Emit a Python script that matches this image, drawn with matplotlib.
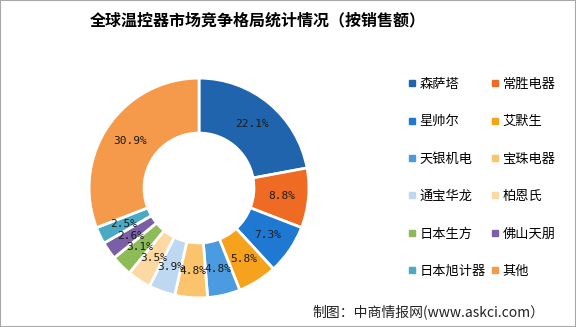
import matplotlib.pyplot as plt
from matplotlib.lines import Line2D
from matplotlib.patches import Rectangle

plt.rcParams['font.family'] = ['Noto Sans CJK SC', 'DejaVu Sans']

# market share by sales, clockwise from 12 o'clock
companies = ['森萨塔', '常胜电器', '星帅尔', '艾默生', '天银机电', '宝珠电器',
             '通宝华龙', '柏恩氏', '日本生方', '佛山天朋', '日本旭计器', '其他']
shares = [22.1, 8.8, 7.3, 5.8, 4.8, 4.8, 3.9, 3.5, 3.1, 2.6, 2.5, 30.9]
colors = ['#1f64ad', '#ef6a22', '#1f78d1', '#f7a21c', '#4b9be0', '#fbc46c',
          '#bfd8f1', '#fcd9a3', '#8cbb58', '#7a5fa6', '#4aaac4', '#f5994a']

fig = plt.figure(figsize=(5.76, 3.27), dpi=100)
fig.patch.set_facecolor('white')

# donut
ax = fig.add_axes([88/576, 28/327, 222/576, 222/327])
wedges, texts, autotexts = ax.pie(
    shares, colors=colors, startangle=90, counterclock=False,
    autopct='%.1f%%', pctdistance=0.76,
    wedgeprops=dict(width=0.5, edgecolor='white', linewidth=2),
    textprops=dict(fontsize=8, family='DejaVu Sans Mono', color='#1a1a1a'))
ax.set_xlim(-1.01, 1.01)
ax.set_ylim(-1.01, 1.01)
ax.set_aspect('equal')

# legend, two columns filled row by row
handles = [Line2D([], [], marker='s', linestyle='none', markersize=4.5,
                  markerfacecolor=c, markeredgecolor=c) for c in colors]
order = list(range(0, 12, 2)) + list(range(1, 12, 2))
fig.legend([handles[i] for i in order], [companies[i] for i in order],
           ncol=2, loc='upper left',
           bbox_to_anchor=(396/576, 1 - 66/327), frameon=False,
           fontsize=9.5, handlelength=0.6, handletextpad=0.3,
           labelspacing=1.85, columnspacing=0.35)

fig.text(258/576, 1 - 20/327, '全球温控器市场竞争格局统计情况（按销售额）',
         ha='center', va='center', fontsize=11.5, fontweight='bold')
fig.text(312/576, 1 - 312/327, '制图：中商情报网(www.askci.com）',
         ha='left', va='center', fontsize=10, color='#222222')

fig.patches.append(Rectangle((0, 0), 1, 1, transform=fig.transFigure,
                             fill=False, edgecolor='#a8a8a8', linewidth=1.5))

fig.savefig('out.png', dpi=100)
